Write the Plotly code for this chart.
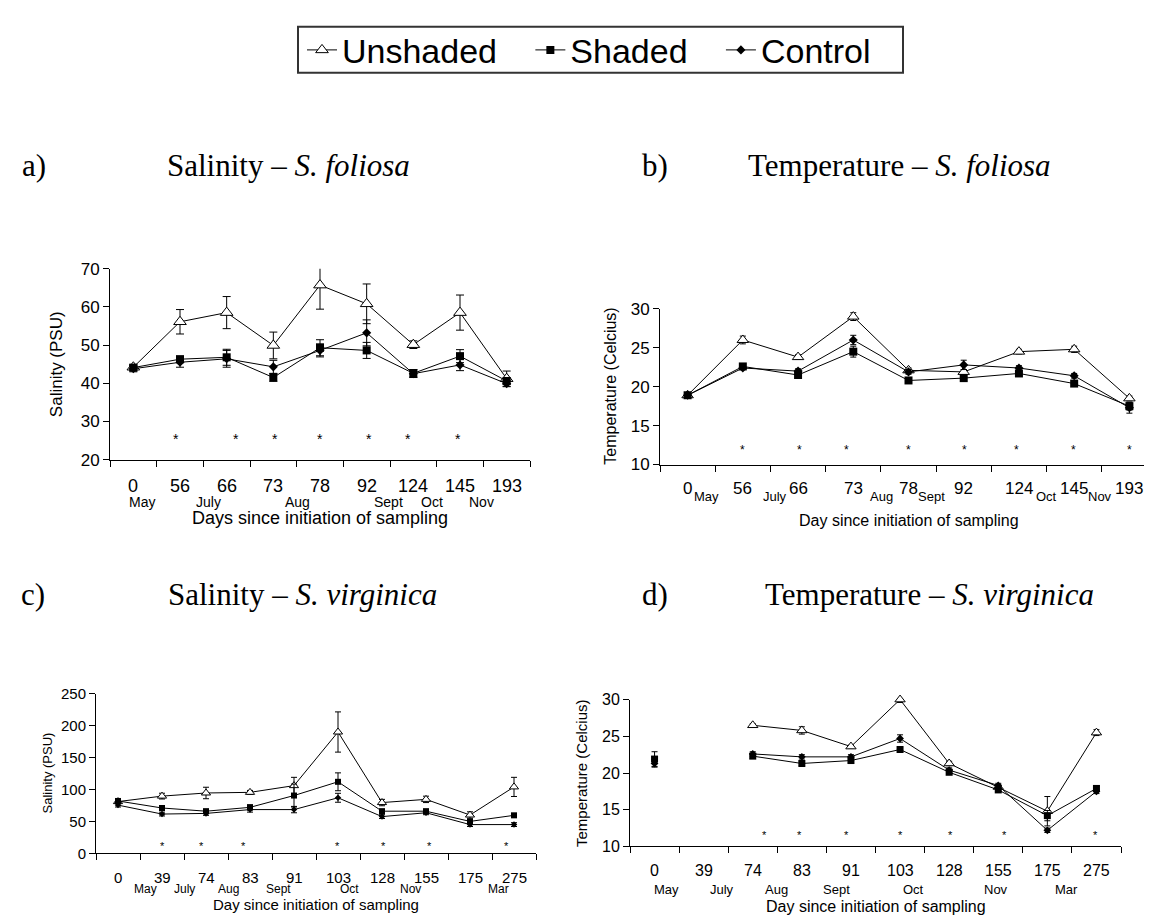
import plotly.graph_objects as go

W, H = 1152, 918
SANS = "Liberation Sans, Arial, sans-serif"
SERIF = "Liberation Serif, Times New Roman, serif"

# ---------------- data ----------------
# a) Salinity - S. foliosa
a_days = ["0", "56", "66", "73", "78", "92", "124", "145", "193"]
a_unshaded = [44.2, 56.1, 58.5, 49.9, 65.7, 60.8, 50.1, 58.5, 41.2]
a_unshaded_err = [0.5, 3.2, 4.2, 3.5, 6.3, 5.2, 1.0, 4.6, 2.0]
a_shaded = [44.1, 46.3, 46.8, 41.5, 49.3, 48.6, 42.6, 47.1, 40.6]
a_shaded_err = [0.8, 0.8, 2.1, 1.0, 2.1, 2.1, 1.0, 1.7, 0.8]
a_control = [43.8, 45.5, 46.4, 44.3, 48.6, 53.2, 42.5, 44.8, 39.9]
a_control_err = [0.8, 1.3, 2.2, 1.7, 1.7, 3.4, 1.0, 1.5, 0.8]
a_months = ["May", "July", "Aug", "Sept", "Oct", "Nov"]
a_month_pos = [0.19, 1.61, 3.52, 5.46, 6.39, 7.45]
a_star_pos = [0.91, 2.21, 3.03, 3.99, 5.04, 5.88, 6.95]
a_star_y = 25.3

# b) Temperature - S. foliosa
b_days = ["0", "56", "66", "73", "78", "92", "124", "145", "193"]
b_unshaded = [18.9, 26.0, 23.8, 29.0, 22.1, 21.9, 24.5, 24.8, 18.5]
b_unshaded_err = [0.2, 0.5, 0.3, 0.5, 0.3, 0.3, 0.3, 0.4, 0.3]
b_shaded = [18.9, 22.6, 21.5, 24.5, 20.8, 21.1, 21.7, 20.4, 17.5]
b_shaded_err = [0.2, 0.2, 0.2, 0.7, 0.2, 0.2, 0.2, 0.2, 0.5]
b_control = [18.9, 22.4, 22.0, 26.0, 21.9, 22.8, 22.4, 21.4, 17.3]
b_control_err = [0.2, 0.2, 0.3, 0.6, 0.3, 0.6, 0.3, 0.3, 0.7]
b_months = ["May", "July", "Aug", "Sept", "Oct", "Nov"]
b_month_pos = [0.35, 1.58, 3.51, 4.41, 6.49, 7.47]
b_star_pos = [1.0, 2.02, 2.88, 4.0, 5.02, 5.96, 6.99, 8.0]
b_star_y = 11.9

# c) Salinity - S. virginica
c_days = ["0", "39", "74", "83", "91", "103", "128", "155", "175", "275"]
c_unshaded = [81, 89.6, 94.5, 95.5, 106, 190, 79.5, 84.5, 60, 104]
c_unshaded_err = [2, 4.5, 9, 3, 13, 31.5, 5, 5, 5, 15]
c_shaded = [82, 71, 66, 72, 90.5, 112, 66, 66, 50, 59.5]
c_shaded_err = [3, 3, 3, 4, 18, 14, 3, 3, 3, 3]
c_control = [75.5, 61.5, 62.5, 68.5, 68.5, 87, 57.5, 63.5, 45, 45]
c_control_err = [3, 3, 3, 4, 5, 7, 3, 3, 3, 3]
c_months = ["May", "July", "Aug", "Sept", "Oct", "Nov", "Mar"]
c_month_pos = [0.62, 1.51, 2.5, 3.64, 5.26, 6.64, 8.64]
c_star_pos = [1.0, 1.89, 2.86, 4.98, 6.03, 7.08, 8.82]
c_star_y = 10.7

# d) Temperature - S. virginica
d_days = ["0", "39", "74", "83", "91", "103", "128", "155", "175", "275"]
d_unshaded = [None, None, 26.5, 25.8, 23.6, 30.0, 21.3, 18.1, 14.8, 25.5]
d_unshaded_err = [0, 0, 0.2, 0.5, 0.2, 0.4, 0.3, 0.3, 2.0, 0.4]
d_shaded = [21.9, None, 22.3, 21.3, 21.7, 23.2, 20.1, 17.7, 14.2, 17.9]
d_shaded_err = [1.0, 0, 0.3, 0.3, 0.3, 0.3, 0.3, 0.3, 0.7, 0.3]
d_control = [21.3, None, 22.6, 22.2, 22.2, 24.7, 20.4, 18.3, 12.2, 17.5]
d_control_err = [0.5, 0, 0.3, 0.3, 0.3, 0.5, 0.3, 0.3, 0.3, 0.3]
d_months = ["May", "July", "Aug", "Sept", "Oct", "Nov", "Mar"]
d_month_pos = [0.245, 1.38, 2.48, 3.70, 5.28, 6.96, 8.39]
d_star_pos = [2.24, 2.96, 3.91, 5.0, 6.02, 7.12, 8.99]
d_star_y = 11.5

series_names = ["Unshaded", "Shaded", "Control"]

# ---------------- styling / layout (pixels) ----------------
panels = [
    dict(key="", days=a_days, data=[(a_unshaded, a_unshaded_err), (a_shaded, a_shaded_err), (a_control, a_control_err)],
         months=a_months, mpos=a_month_pos, stars=a_star_pos, star_y=a_star_y,
         xpx=(102, 522), ypx=(452, 257), yrange=(20, 70), dtick=10,
         ytitle="Salinity (PSU)", xtitle="Days since initiation of sampling",
         ytitle_x=48, num_y=479, mon_y=495, xt_y=512,
         tick_fs=17, num_fs=18, mon_fs=14, xt_fs=18, yt_fs=17, star_fs=14,
         msize=(11, 8, 7), capw=4),
    dict(key="2", days=b_days, data=[(b_unshaded, b_unshaded_err), (b_shaded, b_shaded_err), (b_control, b_control_err)],
         months=b_months, mpos=b_month_pos, stars=b_star_pos, star_y=b_star_y,
         xpx=(652, 1149), ypx=(457, 298), yrange=(10, 30), dtick=5,
         ytitle="Temperature (Celcius)", xtitle="Day since initiation of sampling",
         ytitle_x=603, num_y=481, mon_y=490, xt_y=514,
         tick_fs=17, num_fs=17, mon_fs=13, xt_fs=16, yt_fs=16, star_fs=12,
         msize=(10, 8, 7), capw=3),
    dict(key="3", days=c_days, data=[(c_unshaded, c_unshaded_err), (c_shaded, c_shaded_err), (c_control, c_control_err)],
         months=c_months, mpos=c_month_pos, stars=c_star_pos, star_y=c_star_y,
         xpx=(88, 528), ypx=(854, 691), yrange=(0, 250), dtick=50,
         ytitle="Salinity (PSU)", xtitle="Day since initiation of sampling",
         ytitle_x=40, num_y=879, mon_y=890, xt_y=906,
         tick_fs=15, num_fs=15, mon_fs=12, xt_fs=15, yt_fs=13, star_fs=11,
         msize=(8, 6, 5), capw=3),
    dict(key="4", days=d_days, data=[(d_unshaded, d_unshaded_err), (d_shaded, d_shaded_err), (d_control, d_control_err)],
         months=d_months, mpos=d_month_pos, stars=d_star_pos, star_y=d_star_y,
         xpx=(622, 1113), ypx=(847, 697), yrange=(10, 30), dtick=5,
         ytitle="Temperature (Celcius)", xtitle="Day since initiation of sampling",
         ytitle_x=573, num_y=872, mon_y=891, xt_y=908,
         tick_fs=16, num_fs=16, mon_fs=13, xt_fs=16, yt_fs=15, star_fs=11,
         msize=(9, 7, 6), capw=3),
]

marker_styles = {
    "Unshaded": dict(symbol="triangle-up", color="white", line=dict(color="black", width=1)),
    "Shaded": dict(symbol="square", color="black", line=dict(color="black", width=0)),
    "Control": dict(symbol="diamond", color="black", line=dict(color="black", width=0)),
}
legend_rank = {"Unshaded": 1, "Shaded": 2, "Control": 3}
legend_pad = {"Unshaded": "\u00a0\u00a0\u00a0", "Shaded": "\u00a0\u00a0\u00a0", "Control": ""}
draw_order = [0, 2, 1]  # Unshaded, Control, Shaded (squares on top)


def px_x(p):
    return p / W


def px_y(p):
    return 1 - p / H


fig = go.Figure()
annotations = []
layout_axes = {}

for pi, p in enumerate(panels):
    k = p["key"]
    n = len(p["days"])
    xs = list(range(n))
    for si in draw_order:
        name = series_names[si]
        vals, errs = p["data"][si]
        ms = dict(marker_styles[name])
        ms["size"] = p["msize"][si]
        fig.add_trace(go.Scatter(
            x=xs, y=vals, mode="lines+markers", name=name + legend_pad[name],
            xaxis="x" + k, yaxis="y" + k,
            line=dict(color="black", width=1),
            marker=ms,
            error_y=dict(type="data", array=errs, visible=True, color="black", thickness=1, width=p["capw"]),
            connectgaps=False, cliponaxis=False,
            showlegend=(pi == 0), legendrank=legend_rank[name],
        ))
    ax_name = "xaxis" + k
    ay_name = "yaxis" + k
    layout_axes[ax_name] = dict(
        domain=[px_x(p["xpx"][0]), px_x(p["xpx"][1])],
        anchor="y" + k, range=[-0.5, n - 0.5],
        showline=True, linecolor="black", linewidth=1,
        showgrid=False, zeroline=False, showticklabels=False,
        tickmode="array", tickvals=[i - 0.5 for i in range(n + 1)],
        ticks="outside", ticklen=6, tickcolor="black", tickwidth=1,
    )
    layout_axes[ay_name] = dict(
        domain=[px_y(p["ypx"][0]), px_y(p["ypx"][1])],
        anchor="x" + k, range=list(p["yrange"]),
        showline=True, linecolor="black", linewidth=1,
        showgrid=False, zeroline=False,
        tickmode="linear", tick0=p["yrange"][0], dtick=p["dtick"],
        ticks="outside", ticklen=6, tickcolor="black", tickwidth=1,
        tickfont=dict(family=SANS, size=p["tick_fs"], color="black"),
    )
    xref = "x" + k
    for i, d in enumerate(p["days"]):
        annotations.append(dict(x=i, y=px_y(p["num_y"]), xref=xref, yref="paper", text=d,
                                showarrow=False, xanchor="center", yanchor="middle",
                                font=dict(family=SANS, size=p["num_fs"], color="black")))
    for m, mp in zip(p["months"], p["mpos"]):
        annotations.append(dict(x=mp, y=px_y(p["mon_y"]), xref=xref, yref="paper", text=m,
                                showarrow=False, xanchor="center", yanchor="middle",
                                font=dict(family=SANS, size=p["mon_fs"], color="black")))
    for sp in p["stars"]:
        annotations.append(dict(x=sp, y=p["star_y"], xref=xref, yref="y" + k, text="*",
                                showarrow=False, xanchor="center", yanchor="middle",
                                font=dict(family=SANS, size=p["star_fs"], color="black")))
    xmid = (p["xpx"][0] + p["xpx"][1]) / 2
    annotations.append(dict(x=px_x(xmid), y=px_y(p["xt_y"]), xref="paper", yref="paper", text=p["xtitle"],
                            showarrow=False, xanchor="center", yanchor="middle",
                            font=dict(family=SANS, size=p["xt_fs"], color="black")))
    ymid = (p["ypx"][0] + p["ypx"][1]) / 2
    annotations.append(dict(x=px_x(p["ytitle_x"]), y=px_y(ymid), xref="paper", yref="paper", text=p["ytitle"],
                            textangle=-90, showarrow=False, xanchor="center", yanchor="middle",
                            font=dict(family=SANS, size=p["yt_fs"], color="black")))

# panel headings
headings = [
    ("a)", 12, 152), ("Salinity – <i>S. foliosa</i>", 157, 152),
    ("b)", 632, 152), ("Temperature – <i>S. foliosa</i>", 738, 152),
    ("c)", 11, 590), ("Salinity – <i>S. virginica</i>", 158, 590),
    ("d)", 632, 590), ("Temperature – <i>S. virginica</i>", 755, 590),
]
for txt, hx, hy in headings:
    annotations.append(dict(x=px_x(hx), y=px_y(hy), xref="paper", yref="paper", text=txt,
                            showarrow=False, xanchor="left", yanchor="middle",
                            font=dict(family=SERIF, size=31, color="black")))

# legend frame
shapes = [dict(type="rect", xref="paper", yref="paper",
               x0=px_x(290), x1=px_x(895), y0=px_y(57), y1=px_y(10),
               line=dict(color="#333333", width=2), fillcolor="rgba(0,0,0,0)", layer="above")]

fig.update_layout(
    width=W, height=H, autosize=False,
    margin=dict(l=0, r=0, t=0, b=0),
    paper_bgcolor="white", plot_bgcolor="white",
    showlegend=True,
    legend=dict(orientation="h", x=px_x(294), xanchor="left", y=px_y(34), yanchor="middle",
                borderwidth=0, bgcolor="rgba(0,0,0,0)",
                font=dict(family=SANS, size=34, color="black"),
                itemwidth=30, traceorder="normal"),
    annotations=annotations,
    shapes=shapes,
    **layout_axes,
)

fig.write_html("out.html")
